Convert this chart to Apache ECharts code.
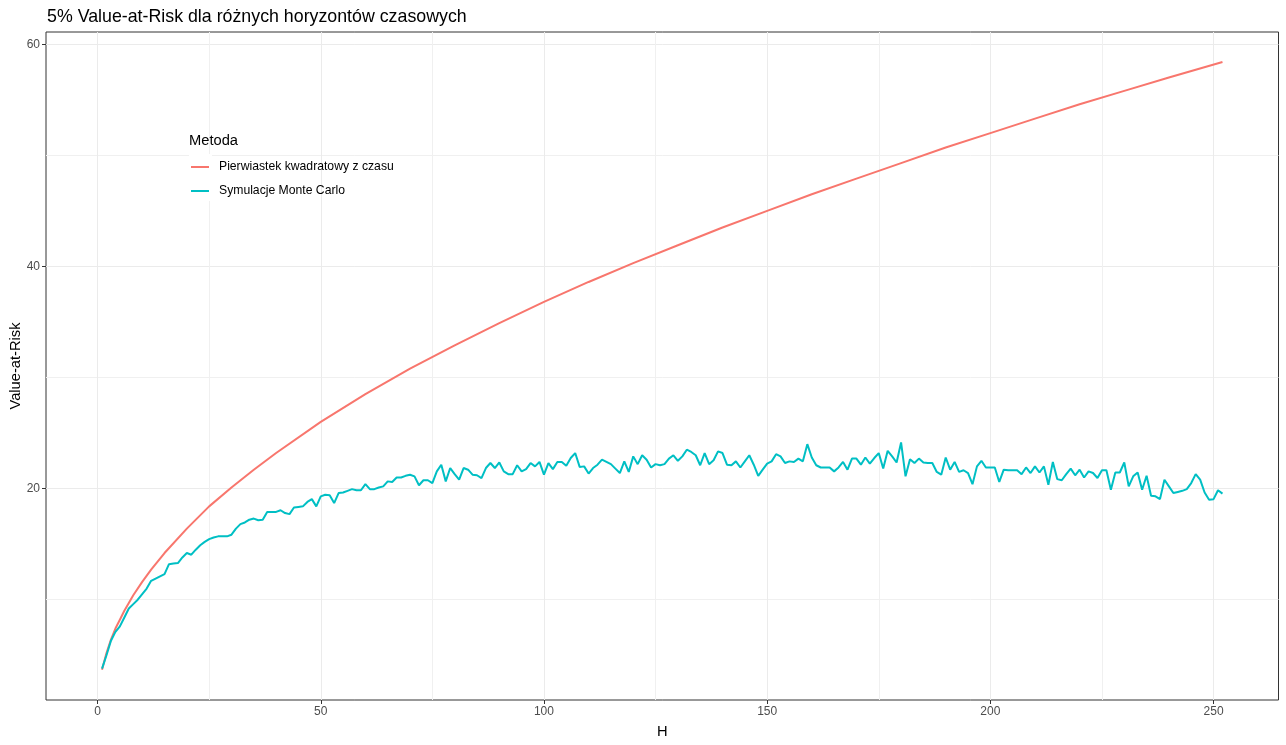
<!DOCTYPE html>
<html>
<head>
<meta charset="utf-8">
<script src="https://cdn.jsdelivr.net/npm/echarts@6/dist/echarts.min.js"></script>
<style>
html,body{margin:0;padding:0;background:#fff;}
#chart{width:1286px;height:745px;}
</style>
</head>
<body>
<div id="chart"></div>
<script>
var titleText = '5% Value-at-Risk dla różnych horyzontów czasowych';
var legendTitle = 'Metoda';
var seriesNames = ['Pierwiastek kwadratowy z czasu', 'Symulacje Monte Carlo'];
var xMajorTicks = [0, 50, 100, 150, 200, 250];
var xMinorTicks = [25, 75, 125, 175, 225];
var yMajorTicks = [20, 40, 60];
var yMinorTicks = [10, 30, 50];

// Square-root-of-time rule (at selected horizons)
var sqrtH = [1, 2, 3, 4, 5, 6, 8, 10, 12, 15, 20, 25, 30, 35, 40, 50, 60, 70, 80, 90, 100, 110, 120, 130, 140, 150, 160, 170, 180, 190, 200, 210, 220, 230, 240, 252];
var sqrtVaR = [3.7, 5.2, 6.4, 7.4, 8.2, 9.0, 10.4, 11.6, 12.7, 14.2, 16.4, 18.4, 20.1, 21.7, 23.2, 26.0, 28.5, 30.8, 32.9, 34.9, 36.8, 38.6, 40.3, 41.9, 43.5, 45.0, 46.5, 47.9, 49.3, 50.7, 52.0, 53.3, 54.6, 55.8, 57.0, 58.4];

// Monte Carlo VaR for H = 1..252
var mcVaR = [
3.8, 5.0, 6.3, 7.1, 7.6, 8.4, 9.2, 9.6, 10.0, 10.5,
11.0, 11.7, 11.9, 12.1, 12.3, 13.2, 13.25, 13.3, 13.8, 14.2,
14.05, 14.5, 14.9, 15.2, 15.45, 15.6, 15.7, 15.7, 15.7, 15.85,
16.4, 16.8, 16.95, 17.2, 17.3, 17.15, 17.2, 17.9, 17.9, 17.9,
18.05, 17.8, 17.7, 18.3, 18.35, 18.4, 18.8, 19.05, 18.4, 19.3,
19.45, 19.4, 18.7, 19.6, 19.65, 19.8, 19.95, 19.85, 19.85, 20.4,
19.95, 19.95, 20.1, 20.2, 20.65, 20.6, 21.0, 21.0, 21.15, 21.25,
21.1, 20.3, 20.75, 20.75, 20.5, 21.55, 22.15, 20.65, 21.85, 21.3,
20.8, 21.85, 21.7, 21.25, 21.2, 20.95, 21.85, 22.3, 21.85, 22.35,
21.55, 21.3, 21.3, 22.1, 21.55, 21.75, 22.3, 22.0, 22.4, 21.25,
22.3, 21.75, 22.4, 22.4, 22.05, 22.75, 23.2, 21.95, 22.0, 21.35,
21.85, 22.15, 22.6, 22.4, 22.2, 21.8, 21.4, 22.45, 21.5, 22.9,
22.2, 23.0, 22.6, 21.9, 22.2, 22.1, 22.2, 22.7, 23.0, 22.5,
22.9, 23.5, 23.3, 23.0, 22.1, 23.2, 22.2, 22.55, 23.35, 23.2,
22.15, 22.1, 22.45, 21.9, 22.45, 23.0, 22.15, 21.15, 21.7, 22.25,
22.45, 23.1, 22.9, 22.3, 22.45, 22.4, 22.7, 22.45, 24.0, 22.8,
22.1, 21.9, 21.9, 21.9, 21.55, 21.9, 22.4, 21.7, 22.7, 22.7,
22.15, 22.8, 22.25, 22.75, 23.2, 21.8, 23.4, 22.9, 22.35, 24.15,
21.1, 22.65, 22.3, 22.7, 22.35, 22.3, 22.3, 21.5, 21.25, 22.8,
21.7, 22.4, 21.5, 21.65, 21.4, 20.4, 22.0, 22.5, 21.9, 21.9,
21.9, 20.6, 21.7, 21.65, 21.65, 21.65, 21.3, 21.9, 21.4, 22.0,
21.45, 22.0, 20.35, 22.4, 20.85, 20.75, 21.3, 21.8, 21.2, 21.7,
21.0, 21.55, 21.4, 20.95, 21.65, 21.65, 19.9, 21.45, 21.45, 22.35,
20.2, 21.1, 21.45, 19.9, 21.15, 19.35, 19.3, 19.05, 20.8, 20.2,
19.6, 19.7, 19.8, 19.95, 20.5, 21.3, 20.8, 19.65, 19.0, 19.05,
19.85, 19.55
];

var colors = ['#F8766D', '#00BFC4'];
var FONT = '"Liberation Sans", Arial, sans-serif';

var sqrtData = sqrtH.map(function (h, i) { return [h, sqrtVaR[i]]; });
var mcData = mcVaR.map(function (v, i) { return [i + 1, v]; });

var chart = echarts.init(document.getElementById('chart'), null, {renderer: 'canvas'});

var xMin = -11.55, xMax = 264.55, yMin = 0.97, yMax = 61.1;

function baseAxis(extra) {
  return Object.assign({
    type: 'value',
    axisLine: {show: false, onZero: false},
    axisTick: {show: false},
    axisLabel: {show: false},
    splitLine: {show: false}
  }, extra);
}

var option = {
  backgroundColor: '#ffffff',
  animation: false,
  textStyle: {fontFamily: FONT},
  title: {
    text: titleText,
    left: 47, top: 8, padding: 0,
    textStyle: {fontFamily: FONT, fontSize: 17.8, fontWeight: 'normal', color: '#000'}
  },
  grid: {
    left: 46, right: 7.5, top: 32, bottom: 45,
    containLabel: false, outerBoundsMode: 'none',
    show: true, borderColor: '#333333', borderWidth: 1, backgroundColor: 'transparent'
  },
  xAxis: [
    baseAxis({
      min: xMin, max: xMax, position: 'bottom',
      name: 'H', nameLocation: 'middle', nameGap: 24, nameMoveOverlap: false,
      nameTextStyle: {fontFamily: FONT, fontSize: 14.7, color: '#000'},
      axisTick: {show: true, length: 4, lineStyle: {color: '#333333', width: 1}, customValues: xMajorTicks},
      axisLabel: {show: true, margin: 6, fontSize: 12, color: '#4D4D4D', fontFamily: FONT, customValues: xMajorTicks},
      splitLine: {show: true, lineStyle: {color: '#EBEBEB', width: 1}}
    }),
    baseAxis({
      min: xMin, max: xMax, position: 'top',
      axisTick: {show: false, customValues: xMinorTicks},
      axisLabel: {show: false, customValues: xMinorTicks},
      splitLine: {show: true, lineStyle: {color: '#F0F0F0', width: 1}}
    })
  ],
  yAxis: [
    baseAxis({
      min: yMin, max: yMax, position: 'left',
      name: 'Value-at-Risk', nameLocation: 'middle', nameGap: 23, nameRotate: 90, nameMoveOverlap: false,
      nameTextStyle: {fontFamily: FONT, fontSize: 14.7, color: '#000'},
      axisTick: {show: true, length: 4, lineStyle: {color: '#333333', width: 1}, customValues: yMajorTicks},
      axisLabel: {show: true, margin: 6, fontSize: 12, color: '#4D4D4D', fontFamily: FONT, customValues: yMajorTicks},
      splitLine: {show: true, lineStyle: {color: '#EBEBEB', width: 1}}
    }),
    baseAxis({
      min: yMin, max: yMax, position: 'right',
      axisTick: {show: false, customValues: yMinorTicks},
      axisLabel: {show: false, customValues: yMinorTicks},
      splitLine: {show: true, lineStyle: {color: '#F0F0F0', width: 1}}
    })
  ],
  legend: {
    orient: 'vertical',
    left: 191, top: 160, padding: 0,
    itemWidth: 18, itemHeight: 2, itemGap: 10,
    icon: 'rect',
    data: seriesNames,
    textStyle: {fontFamily: FONT, fontSize: 12.2, color: '#000', lineHeight: 14, padding: [0, 0, 0, 5]}
  },
  graphic: [
    {type: 'rect', z: 1, shape: {x: 189, y: 154, width: 23, height: 47}, style: {fill: '#ffffff'}},
    {type: 'text', z: 5, left: 189, top: 133, style: {text: legendTitle, font: '14.7px ' + FONT, fill: '#000'}}
  ],
  series: [
    {
      name: seriesNames[0], type: 'line', data: sqrtData, xAxisIndex: 0, yAxisIndex: 0,
      showSymbol: false, symbol: 'none', color: colors[0],
      lineStyle: {width: 2, color: colors[0]}, z: 3
    },
    {
      name: seriesNames[1], type: 'line', data: mcData, xAxisIndex: 0, yAxisIndex: 0,
      showSymbol: false, symbol: 'none', color: colors[1],
      lineStyle: {width: 2, color: colors[1]}, z: 4
    }
  ]
};
chart.setOption(option);
</script>
</body>
</html>
